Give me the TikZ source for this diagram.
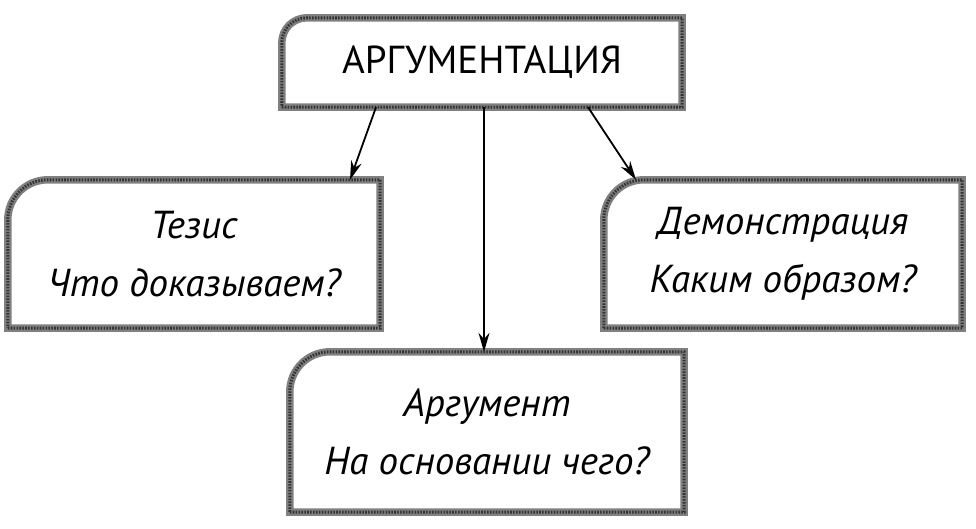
\documentclass[tikz,border=0pt]{standalone}
\usepackage{fontspec}
\setmainfont{PT Sans}
\usetikzlibrary{arrows.meta}
\tikzset{
 card/.style={rectangle, inner sep=0pt, align=center, font=\fontsize{39}{58}\selectfont\itshape},
 rim/.style={line width=7.5pt, black!50},
 grain/.style={line width=3pt, black!80, dash pattern=on 1.6pt off 1.3pt},
 pointer/.style={-{Stealth[length=19pt,width=11pt]}, line width=1.8pt}
}
\newcommand{\cardrim}[2]{%
 \draw[rim, postaction={draw, grain}] (#1.south west) -- (#1.south east) -- (#1.north east)
 -- ([xshift=#2]#1.north west) arc[start angle=90, end angle=180, radius=#2] -- cycle;}
\begin{document}
\begin{tikzpicture}[x=1pt, y=-1pt]
 \useasboundingbox (0,0) rectangle (976,528);
 \node[card, minimum width=400pt, minimum height=89pt, font=\fontsize{39}{42}\selectfont] (arg) at (482,62.5) {АРГУМЕНТАЦИЯ};
 \node[card, minimum width=372pt, minimum height=148pt] (tez) at (194,254) {Тезис\\Что доказываем?};
 \node[card, minimum width=358pt, minimum height=148pt] (dem) at (783,254) {Демонстрация\\Каким образом?};
 \node[card, minimum width=394pt, minimum height=160pt] (osn) at (487,432) {Аргумент\\На основании чего?};
 \cardrim{arg}{25pt}
 \cardrim{tez}{40pt}
 \cardrim{dem}{40pt}
 \cardrim{osn}{40pt}
 \draw[pointer] ([xshift=-106pt]arg.south) -- ([xshift=156pt]tez.north);
 \draw[pointer] ([xshift=2pt]arg.south) -- ([xshift=-3pt]osn.north);
 \draw[pointer] ([xshift=106pt]arg.south) -- ([xshift=-147pt]dem.north);
\end{tikzpicture}
\end{document}
